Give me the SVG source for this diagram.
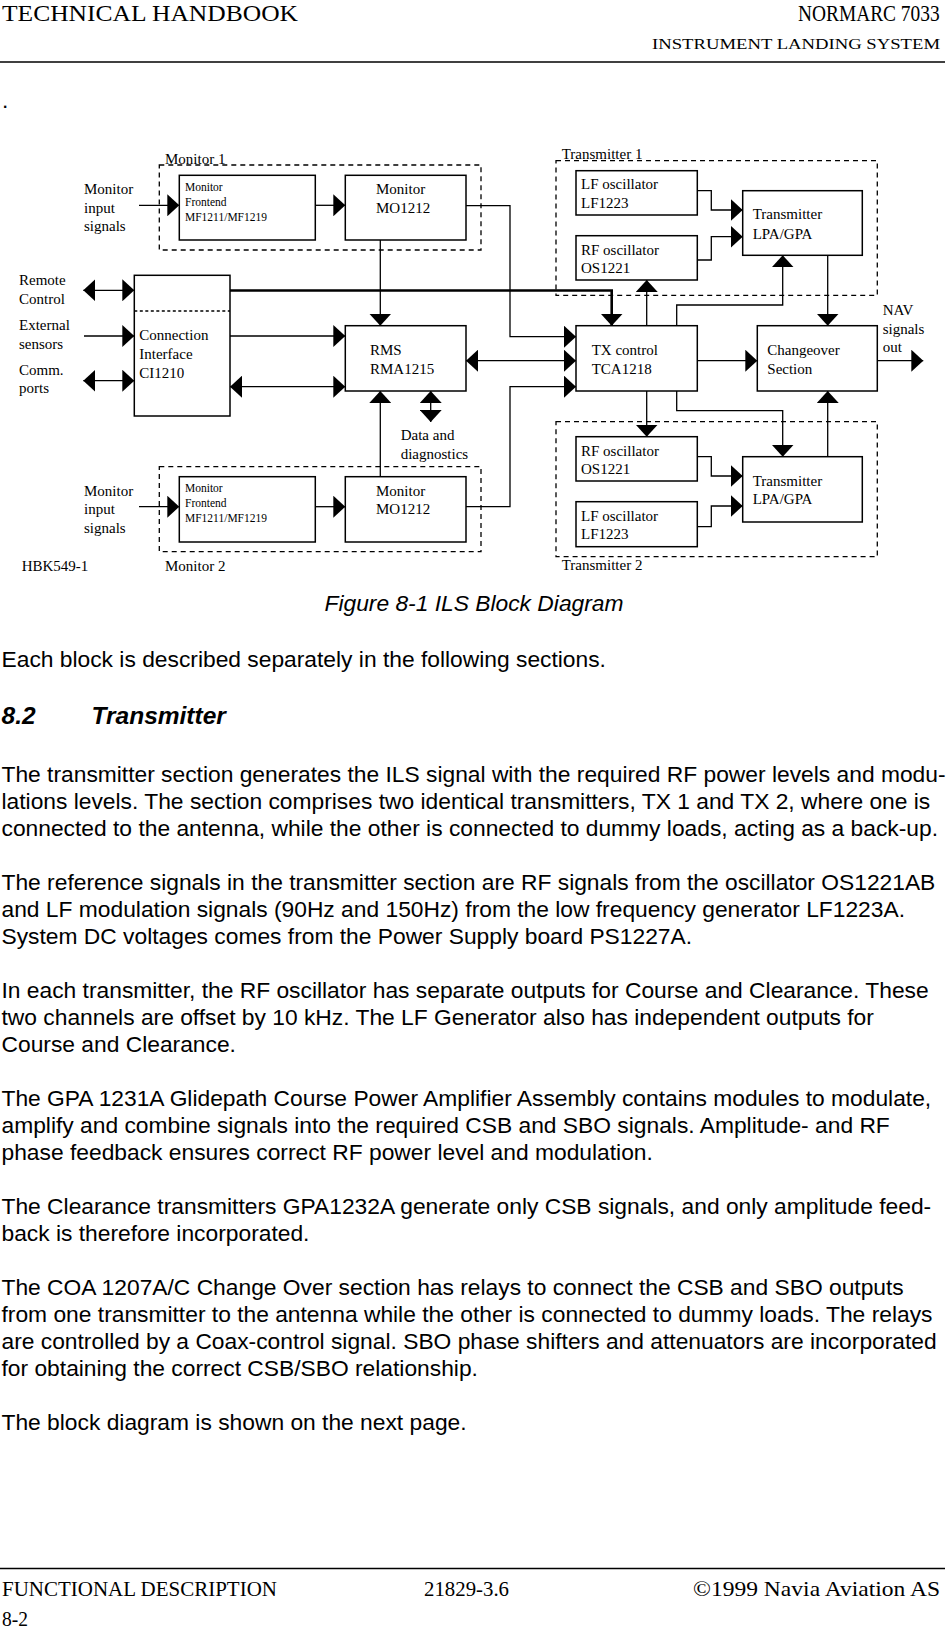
<svg xmlns="http://www.w3.org/2000/svg" width="949" height="1629" viewBox="0 0 949 1629">
<style>
.box{fill:#fff;stroke:#000;stroke-width:1.5}
.grp{fill:none;stroke:#000;stroke-width:1.3;stroke-dasharray:5 4}
.ln{fill:none;stroke:#000;stroke-width:1.3}
.bus{stroke-width:2.6}
.t{font-family:"Liberation Serif","Times New Roman",serif;font-size:15px;fill:#000}
.ts{font-size:11.5px}
.hd{font-family:"Liberation Serif","Times New Roman",serif;fill:#000}
.b{font-family:"Liberation Sans",Arial,Helvetica,sans-serif;font-size:22.8px;fill:#000}
.h2{font-size:24.5px;font-weight:bold;font-style:italic}
.rule{stroke:#000;stroke-width:1.5}
</style>
<defs>
<marker id="ah" viewBox="0 0 12 22" refX="12" refY="11" markerWidth="12" markerHeight="22" markerUnits="userSpaceOnUse" orient="auto-start-reverse"><path d="M0,0 L12,11 L0,22 Z" fill="#000"/></marker>
</defs>
<rect width="949" height="1629" fill="#fff"/>

<g id="page-header">
<text class="hd" x="2" y="21" font-size="23.5" textLength="296" lengthAdjust="spacingAndGlyphs">TECHNICAL HANDBOOK</text>
<text class="hd" transform="translate(798,21) scale(1,1.2)" x="0" y="0" font-size="19.4">NORMARC 7033</text>
<text class="hd" x="652" y="49" font-size="15.5" textLength="288" lengthAdjust="spacingAndGlyphs">INSTRUMENT LANDING SYSTEM</text>
<line class="rule" x1="0" y1="62" x2="945" y2="62"/>
<text class="b" x="2" y="108">.</text>
</g>

<g id="connectors">
<path class="ln" d="M139,205.3 H179.3" marker-end="url(#ah)"/>
<path class="ln" d="M315.3,205.3 H345.3" marker-end="url(#ah)"/>
<path class="ln" d="M139,506.7 H179.3" marker-end="url(#ah)"/>
<path class="ln" d="M315.3,506.7 H345.3" marker-end="url(#ah)"/>
<path class="ln" d="M380.3,240 V325.7" marker-end="url(#ah)"/>
<path class="ln" d="M380.3,476.7 V391" marker-end="url(#ah)"/>
<path class="ln" d="M83.3,290.3 H134.3" marker-start="url(#ah)" marker-end="url(#ah)"/>
<path class="ln" d="M84,336 H134.3" marker-end="url(#ah)"/>
<path class="ln" d="M83.3,380.7 H134.3" marker-start="url(#ah)" marker-end="url(#ah)"/>
<path class="ln" d="M230,336 H345.3" marker-end="url(#ah)"/>
<path class="ln" d="M230,386.7 H345.3" marker-start="url(#ah)" marker-end="url(#ah)"/>
<path class="ln bus" d="M230,290.5 H611.7 V325.7" marker-end="url(#ah)"/>
<path class="ln" d="M430.7,391 V422" marker-start="url(#ah)" marker-end="url(#ah)"/>
<path class="ln" d="M466,205.7 H510 V336.7 H576" marker-end="url(#ah)"/>
<path class="ln" d="M466,506.7 H510 V386.7 H576" marker-end="url(#ah)"/>
<path class="ln" d="M466,360.7 H576" marker-start="url(#ah)" marker-end="url(#ah)"/>
<path class="ln" d="M646.7,325.7 V280" marker-end="url(#ah)"/>
<path class="ln" d="M676.7,325.7 V305 H782.7 V255.3" marker-end="url(#ah)"/>
<path class="ln" d="M827.7,255.3 V325.7" marker-end="url(#ah)"/>
<path class="ln" d="M697.3,360.7 H757.3" marker-end="url(#ah)"/>
<path class="ln" d="M877.3,360.7 H923.3" marker-end="url(#ah)"/>
<path class="ln" d="M646.7,391 V436.7" marker-end="url(#ah)"/>
<path class="ln" d="M676.7,391 V410.7 H782.7 V456.7" marker-end="url(#ah)"/>
<path class="ln" d="M827.7,456.7 V391" marker-end="url(#ah)"/>
<path class="ln" d="M697.3,190.7 H711.3 V210 H742.7" marker-end="url(#ah)"/>
<path class="ln" d="M697.3,260 H711.3 V236.7 H742.7" marker-end="url(#ah)"/>
<path class="ln" d="M697.3,456.7 H711.3 V476 H742.7" marker-end="url(#ah)"/>
<path class="ln" d="M697.3,526.7 H711.3 V506 H742.7" marker-end="url(#ah)"/>
</g>

<g id="monitor1-group">
<rect class="grp" x="159.3" y="165" width="321.7" height="85"/>
<text class="t" x="165" y="163.5">Monitor 1</text>
</g>
<g id="monitor2-group">
<rect class="grp" x="159.3" y="466.7" width="321.7" height="85"/>
<text class="t" x="165" y="571">Monitor 2</text>
</g>
<g id="transmitter1-group">
<rect class="grp" x="556" y="160.7" width="321.3" height="134.6"/>
<text class="t" x="561.7" y="158.5">Transmitter 1</text>
</g>
<g id="transmitter2-group">
<rect class="grp" x="556" y="421.7" width="321.3" height="135"/>
<text class="t" x="561.7" y="570">Transmitter 2</text>
</g>

<g id="monitor-input-1">
<text class="t" x="84" y="194">Monitor</text>
<text class="t" x="84" y="212.5">input</text>
<text class="t" x="84" y="231">signals</text>
</g>
<g id="monitor-input-2">
<text class="t" x="84" y="495.7">Monitor</text>
<text class="t" x="84" y="514.3">input</text>
<text class="t" x="84" y="533">signals</text>
</g>

<g id="frontend1">
<rect class="box" x="179.3" y="175.3" width="136" height="64.7"/>
<text class="t ts" x="185" y="191">Monitor</text>
<text class="t ts" x="185" y="205.7">Frontend</text>
<text class="t ts" x="185" y="220.7">MF1211/MF1219</text>
</g>
<g id="monitor1">
<rect class="box" x="345.3" y="175.3" width="120.7" height="64.7"/>
<text class="t" x="376" y="194">Monitor</text>
<text class="t" x="376" y="212.7">MO1212</text>
</g>
<g id="frontend2">
<rect class="box" x="179.3" y="476.7" width="136" height="65.3"/>
<text class="t ts" x="185" y="492.3">Monitor</text>
<text class="t ts" x="185" y="506.7">Frontend</text>
<text class="t ts" x="185" y="521.7">MF1211/MF1219</text>
</g>
<g id="monitor2">
<rect class="box" x="345.3" y="476.7" width="120.7" height="65.3"/>
<text class="t" x="376" y="495.7">Monitor</text>
<text class="t" x="376" y="514.3">MO1212</text>
</g>

<g id="left-labels">
<text class="t" x="19" y="285">Remote</text>
<text class="t" x="19" y="304">Control</text>
<text class="t" x="19" y="330">External</text>
<text class="t" x="19" y="348.5">sensors</text>
<text class="t" x="19" y="375">Comm.</text>
<text class="t" x="19" y="393">ports</text>
</g>

<g id="connection-interface">
<rect class="box" x="134.3" y="275.3" width="95.7" height="140.7"/>
<line x1="134.3" y1="311" x2="230" y2="311" stroke="#000" stroke-width="1.3" stroke-dasharray="3 2.5"/>
<text class="t" x="139.3" y="340">Connection</text>
<text class="t" x="139.3" y="359">Interface</text>
<text class="t" x="139.3" y="377.7">CI1210</text>
</g>

<g id="rms">
<rect class="box" x="345.3" y="325.7" width="120.7" height="65.3"/>
<text class="t" x="370" y="355">RMS</text>
<text class="t" x="370" y="374">RMA1215</text>
</g>
<g id="data-diagnostics">
<text class="t" x="400.7" y="440">Data and</text>
<text class="t" x="400.7" y="459">diagnostics</text>
</g>

<g id="lf-osc1">
<rect class="box" x="576" y="170.7" width="121.3" height="44.3"/>
<text class="t" x="581" y="189">LF oscillator</text>
<text class="t" x="581" y="208.3">LF1223</text>
</g>
<g id="rf-osc1">
<rect class="box" x="576" y="235.7" width="121.3" height="44.3"/>
<text class="t" x="581" y="255">RF oscillator</text>
<text class="t" x="581" y="273.3">OS1221</text>
</g>
<g id="transmitter1">
<rect class="box" x="742.7" y="190.7" width="119.6" height="64.6"/>
<text class="t" x="752.7" y="219">Transmitter</text>
<text class="t" x="752.7" y="239">LPA/GPA</text>
</g>
<g id="tx-control">
<rect class="box" x="576" y="325.7" width="121.3" height="65.3"/>
<text class="t" x="591.7" y="355">TX control</text>
<text class="t" x="591.7" y="374">TCA1218</text>
</g>
<g id="changeover">
<rect class="box" x="757.3" y="325.7" width="120" height="65.3"/>
<text class="t" x="767.3" y="355">Changeover</text>
<text class="t" x="767.3" y="374">Section</text>
</g>
<g id="nav-out">
<text class="t" x="882.7" y="315">NAV</text>
<text class="t" x="882.7" y="333.5">signals</text>
<text class="t" x="882.7" y="352.3">out</text>
</g>
<g id="rf-osc2">
<rect class="box" x="576" y="436.7" width="121.3" height="44.3"/>
<text class="t" x="581" y="455.7">RF oscillator</text>
<text class="t" x="581" y="474">OS1221</text>
</g>
<g id="lf-osc2">
<rect class="box" x="576" y="501.7" width="121.3" height="45"/>
<text class="t" x="581" y="520.7">LF oscillator</text>
<text class="t" x="581" y="539">LF1223</text>
</g>
<g id="transmitter2">
<rect class="box" x="742.7" y="456.7" width="119.6" height="65.3"/>
<text class="t" x="752.7" y="485.7">Transmitter</text>
<text class="t" x="752.7" y="504.3">LPA/GPA</text>
</g>
<g id="figure-id">
<text class="t" x="21.7" y="571">HBK549-1</text>
</g>

<g id="body-text">
<text class="b" x="474" y="611" text-anchor="middle" font-style="italic">Figure 8-1 ILS Block Diagram</text>
<text class="b" x="1.5" y="667">Each block is described separately in the following sections.</text>
<text class="b h2" x="1.5" y="724">8.2</text>
<text class="b h2" x="91.5" y="724">Transmitter</text>
<text class="b" x="1.5" y="781.7">The transmitter section generates the ILS signal with the required RF power levels and modu-</text>
<text class="b" x="1.5" y="808.7">lations levels. The section comprises two identical transmitters, TX 1 and TX 2, where one is</text>
<text class="b" x="1.5" y="835.7">connected to the antenna, while the other is connected to dummy loads, acting as a back-up.</text>
<text class="b" x="1.5" y="889.7">The reference signals in the transmitter section are RF signals from the oscillator OS1221AB</text>
<text class="b" x="1.5" y="916.7">and LF modulation signals (90Hz and 150Hz) from the low frequency generator LF1223A.</text>
<text class="b" x="1.5" y="943.7">System DC voltages comes from the Power Supply board PS1227A.</text>
<text class="b" x="1.5" y="997.7">In each transmitter, the RF oscillator has separate outputs for Course and Clearance. These</text>
<text class="b" x="1.5" y="1024.7">two channels are offset by 10 kHz. The LF Generator also has independent outputs for</text>
<text class="b" x="1.5" y="1051.7">Course and Clearance.</text>
<text class="b" x="1.5" y="1105.7">The GPA 1231A Glidepath Course Power Amplifier Assembly contains modules to modulate,</text>
<text class="b" x="1.5" y="1132.7">amplify and combine signals into the required CSB and SBO signals. Amplitude- and RF</text>
<text class="b" x="1.5" y="1159.7">phase feedback ensures correct RF power level and modulation.</text>
<text class="b" x="1.5" y="1213.7">The Clearance transmitters GPA1232A generate only CSB signals, and only amplitude feed-</text>
<text class="b" x="1.5" y="1240.7">back is therefore incorporated.</text>
<text class="b" x="1.5" y="1294.7">The COA 1207A/C Change Over section has relays to connect the CSB and SBO outputs</text>
<text class="b" x="1.5" y="1321.7">from one transmitter to the antenna while the other is connected to dummy loads. The relays</text>
<text class="b" x="1.5" y="1348.7">are controlled by a Coax-control signal. SBO phase shifters and attenuators are incorporated</text>
<text class="b" x="1.5" y="1375.7">for obtaining the correct CSB/SBO relationship.</text>
<text class="b" x="1.5" y="1429.7">The block diagram is shown on the next page.</text>
</g>

<g id="page-footer">
<line class="rule" x1="0" y1="1568.5" x2="945" y2="1568.5"/>
<text class="hd" x="2" y="1596" font-size="21" textLength="275" lengthAdjust="spacingAndGlyphs">FUNCTIONAL DESCRIPTION</text>
<text class="hd" x="424" y="1596" font-size="21" textLength="85" lengthAdjust="spacingAndGlyphs">21829-3.6</text>
<text class="hd" x="693" y="1596" font-size="21" textLength="247" lengthAdjust="spacingAndGlyphs">©1999 Navia Aviation AS</text>
<text class="hd" x="2" y="1626" font-size="21" textLength="26" lengthAdjust="spacingAndGlyphs">8-2</text>
</g>
</svg>
